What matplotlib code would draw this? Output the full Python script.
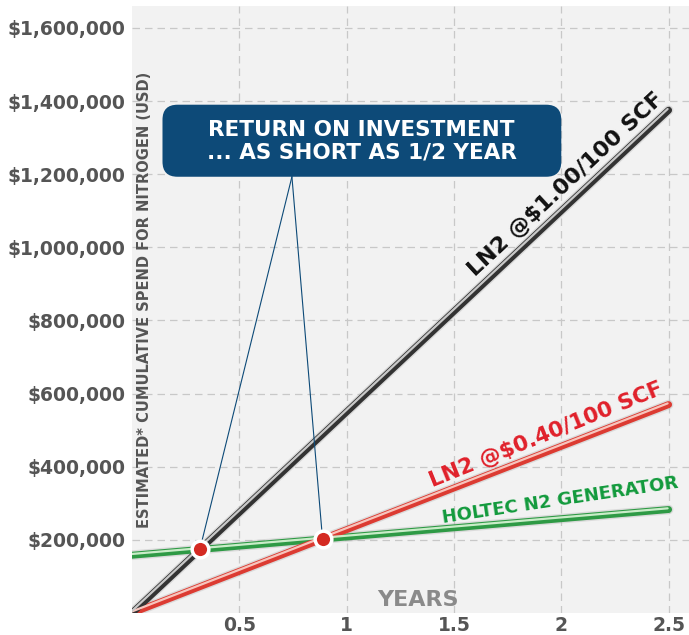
import matplotlib.pyplot as plt
import matplotlib.patheffects as pe
import matplotlib.transforms as mtransforms
from matplotlib.patches import FancyBboxPatch

years = [0, 2.5]
ln2_100 = [0, 1375000]      # LN2 @ $1.00/100 SCF
ln2_040 = [0, 570000]       # LN2 @ $0.40/100 SCF
holtec = [158000, 283000]   # Holtec N2 generator

xticks = [0.5, 1, 1.5, 2, 2.5]
xticklabels = ["0.5", "1", "1.5", "2", "2.5"]
yticks = [200000, 400000, 600000, 800000, 1000000, 1200000, 1400000, 1600000]
yticklabels = ["$200,000", "$400,000", "$600,000", "$800,000",
               "$1,000,000", "$1,200,000", "$1,400,000", "$1,600,000"]


def cross(a, b):
    sa = (a[1] - a[0]) / (years[1] - years[0])
    sb = (b[1] - b[0]) / (years[1] - years[0])
    x = (b[0] - a[0]) / (sa - sb)
    return x, a[0] + sa * x


fig = plt.figure(figsize=(6.89, 6.35), dpi=100)
ax = fig.add_axes([0.1916, 0.0346, 0.8084, 0.956])
ax.set_facecolor("#f2f2f2")
ax.set_xlim(0, 2.595)
ax.set_ylim(0, 1660000)
for s in ax.spines.values():
    s.set_visible(False)
ax.grid(True, color="#c8c8c8", linestyle=(0, (6, 4)), linewidth=0.9)
ax.set_axisbelow(True)
ax.set_xticks(xticks)
ax.set_xticklabels(xticklabels)
ax.set_yticks(yticks)
ax.set_yticklabels(yticklabels)
ax.tick_params(length=0, labelsize=13.5, labelcolor="#555555")
ax.tick_params(axis="x", pad=2)
ax.tick_params(axis="y", pad=5)
for t in ax.get_xticklabels() + ax.get_yticklabels():
    t.set_fontweight("bold")

# tube-like lines with a soft shadow
highlight = ax.transData + mtransforms.ScaledTranslation(-1 / 100, 1.2 / 100, fig.dpi_scale_trans)
styles = [
    (holtec, "#2e9a45", "#c9ecc8"),
    (ln2_040, "#dc3b32", "#f7c4bc"),
    (ln2_100, "#333333", "#c8c8c8"),
]
for ys, dark, light in styles:
    ax.plot(years, ys, color="#b0b0b0", lw=7, alpha=0.35, solid_capstyle="round",
            path_effects=[pe.withSimplePatchShadow(offset=(1, -5), shadow_rgbFace="#999999", alpha=0.35)],
            zorder=2)
    ax.plot(years, ys, color=dark, lw=5, solid_capstyle="round", zorder=3)
    ax.plot(years, ys, color=light, lw=1.6, solid_capstyle="round", zorder=4, transform=highlight)

# crossover points
p1 = cross(ln2_100, holtec)
p2 = cross(ln2_040, holtec)
for px, py in (p1, p2):
    ax.plot(px, py, "o", ms=12, mfc="#d42a22", mec="white", mew=2.5, zorder=6)

# callout
box = FancyBboxPatch((0.142, 1193000), 1.858, 197000,
                     boxstyle="round,pad=0,rounding_size=0.07",
                     mutation_aspect=587000,
                     fc="#0d4a78", ec="none", zorder=7)
ax.add_patch(box)
ax.text(1.07, 1290000, "RETURN ON INVESTMENT\n... AS SHORT AS 1/2 YEAR",
        color="white", fontsize=15.5, fontweight="bold", ha="center", va="center",
        linespacing=1.15, zorder=8)
anchor = (0.745, 1193000)
for px, py in (p1, p2):
    ax.plot([anchor[0], px], [anchor[1], py], color="#0d4a78", lw=0.8, zorder=5)

# line labels
ax.text(2.02, 1171000, "LN2 @$1.00/100 SCF", rotation=43, color="#111111",
        fontsize=16, fontweight="bold", ha="center", va="center", rotation_mode="anchor")
ax.text(1.932, 488000, "LN2 @$0.40/100 SCF", rotation=22, color="#e0202a",
        fontsize=15.5, fontweight="bold", ha="center", va="center", rotation_mode="anchor")
ax.text(1.995, 309000, "HOLTEC N2 GENERATOR", rotation=8.5, color="#129a3c",
        fontsize=13, fontweight="bold", ha="center", va="center", rotation_mode="anchor")

ax.text(0.058, 856000, "ESTIMATED* CUMULATIVE SPEND FOR NITROGEN (USD)", rotation=90,
        color="#555555", fontsize=10.5, fontweight="bold", ha="center", va="center")
ax.text(1.333, 36000, "YEARS", color="#8a8a8a", fontsize=16, fontweight="bold",
        ha="center", va="center")

fig.savefig("out.png", dpi=100)
